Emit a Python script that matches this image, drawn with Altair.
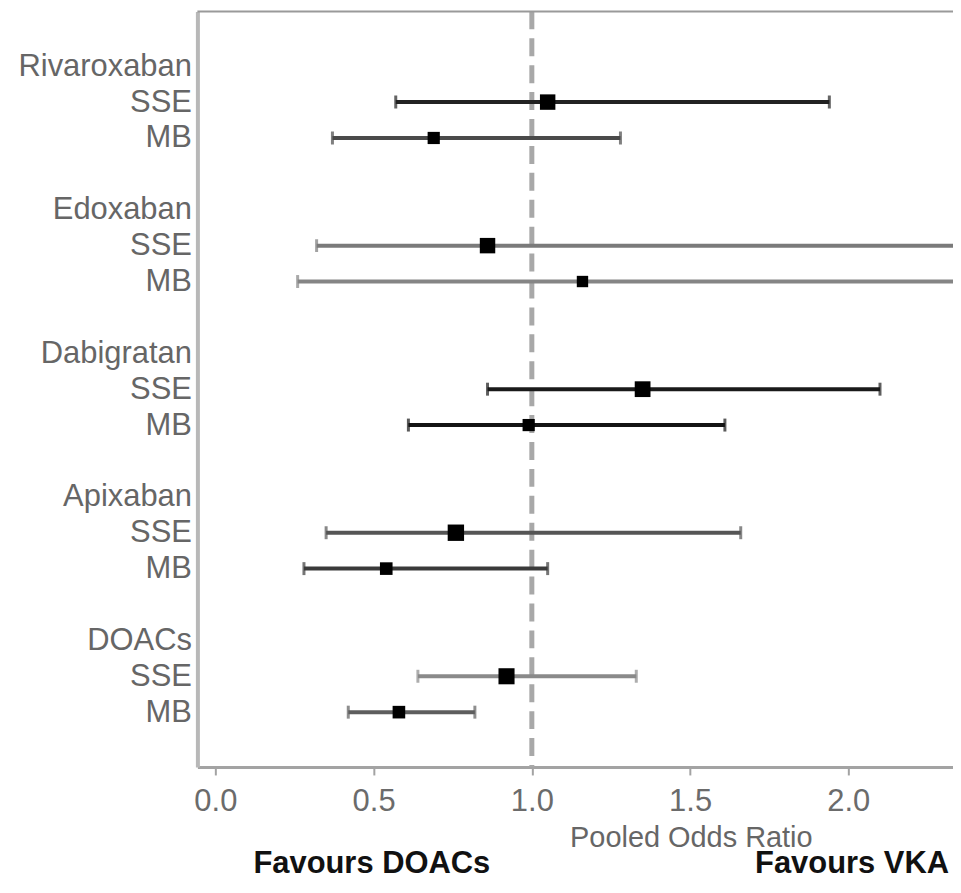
import altair as alt
import pandas as pd

# ---- data ----
drugs = ["Rivaroxaban", "Edoxaban", "Dabigratan", "Apixaban", "DOACs"]
outcomes = ["SSE", "MB"]
# order: Riv SSE, Riv MB, Edox SSE, Edox MB, Dab SSE, Dab MB, Apix SSE, Apix MB, DOAC SSE, DOAC MB
pooled_or = [1.05, 0.69, 0.86, 1.16, 1.35, 0.99, 0.76, 0.54, 0.92, 0.58]
ci_low = [0.57, 0.37, 0.32, 0.26, 0.86, 0.61, 0.35, 0.28, 0.64, 0.42]
ci_high = [1.94, 1.28, 3.20, 4.50, 2.10, 1.61, 1.66, 1.05, 1.33, 0.82]
line_colors = ["#222222", "#4a4a4a", "#7a7a7a", "#858585", "#1a1a1a",
               "#141414", "#555555", "#3a3a3a", "#8a8a8a", "#5e5e5e"]
point_sizes = [240, 150, 240, 130, 250, 150, 270, 160, 260, 160]
x_ticks = [0.0, 0.5, 1.0, 1.5, 2.0]
x_title = "Pooled Odds Ratio"
favours = ["Favours DOACs", "Favours VKA"]

# ---- build tables ----
row_labels = []
for d in drugs:
    row_labels += [d] + outcomes + [""]
row_labels = row_labels[:-1]

recs = []
k = 0
for i, d in enumerate(drugs):
    for j, o in enumerate(outcomes):
        recs.append(dict(drug=d, outcome=o, row=4 * i + j + 1,
                         est=pooled_or[k], lo=ci_low[k], hi=ci_high[k],
                         col=line_colors[k], size=point_sizes[k]))
        k += 1
df = pd.DataFrame(recs)

W, H = 758, 758
x_scale = alt.Scale(domain=[-18 / 317.5, (W - 18) / 317.5], zero=False, nice=False)
y_scale = alt.Scale(domain=[-55 / 36.0, (H - 55) / 36.0], zero=False, nice=False, reverse=True)

label_values = [i for i, l in enumerate(row_labels) if l != ""]
label_expr = "[" + ",".join("'" + l + "'" for l in row_labels) + "][datum.value]"

FONT = "Liberation Sans"

x_axis = alt.Axis(values=x_ticks, format=".1f", grid=False,
                  domainColor="#a3a3a3", domainWidth=3,
                  tickColor="#a3a3a3", tickWidth=2, tickSize=8,
                  labelFontSize=31, labelColor="#6b6b6b", labelFont=FONT,
                  labelPadding=12, labelFlush=False, labelOverlap=False,
                  title=x_title, titleFont=FONT, titleFontSize=29,
                  titleFontWeight="normal", titleColor="#666666",
                  titleX=495, titleY=71, titleBaseline="middle", titleAlign="center")
y_axis = alt.Axis(values=label_values, labelExpr=label_expr, grid=False,
                  domainColor="#b8b8b8", domainWidth=4, ticks=False,
                  labelFontSize=31, labelColor="#666666", labelFont=FONT,
                  labelPadding=6, labelBaseline="middle", labelOverlap=False,
                  labelFlush=False, title=None)

base = alt.Chart(df)

bars = base.mark_rule(strokeWidth=4, clip=True).encode(
    x=alt.X("lo:Q", scale=x_scale, axis=x_axis),
    x2="hi:Q",
    y=alt.Y("row:Q", scale=y_scale, axis=y_axis),
    color=alt.Color("col:N", scale=None),
)

caps_lo = base.mark_tick(orient="vertical", size=13, thickness=3, clip=True).encode(
    x=alt.X("lo:Q", scale=x_scale),
    y=alt.Y("row:Q", scale=y_scale),
    color=alt.Color("col:N", scale=None),
)
caps_hi = base.mark_tick(orient="vertical", size=13, thickness=3, clip=True).encode(
    x=alt.X("hi:Q", scale=x_scale),
    y=alt.Y("row:Q", scale=y_scale),
    color=alt.Color("col:N", scale=None),
)

points = base.mark_point(shape="square", filled=True, color="#000000", opacity=1).encode(
    x=alt.X("est:Q", scale=x_scale),
    y=alt.Y("row:Q", scale=y_scale),
    size=alt.Size("size:Q", scale=None),
)

ref_line = alt.Chart(pd.DataFrame({"v": [1.0]})).mark_rule(
    color="#a8a8a8", strokeWidth=5, strokeDash=[18, 9]
).encode(x=alt.X("v:Q", scale=x_scale))

top_border = alt.Chart(pd.DataFrame({"a": [0]})).mark_rule(
    color="#9a9a9a", strokeWidth=2
).encode(x=alt.value(0), x2=alt.value(W), y=alt.value(0))

fav_left = alt.Chart(pd.DataFrame({"t": [favours[0]]})).mark_text(
    align="center", baseline="alphabetic", font=FONT, fontSize=31,
    fontWeight="bold", color="#111111"
).encode(text="t:N", x=alt.value(175), y=alt.value(864))

fav_right = alt.Chart(pd.DataFrame({"t": [favours[1]]})).mark_text(
    align="right", baseline="alphabetic", font=FONT, fontSize=31,
    fontWeight="bold", color="#111111"
).encode(text="t:N", x=alt.value(W - 4), y=alt.value(864))

chart = alt.layer(
    ref_line, bars, caps_lo, caps_hi, points, top_border, fav_left, fav_right
).properties(
    width=W, height=H,
    autosize=alt.AutoSizeParams(type="none"),
    padding={"left": 190, "top": 2, "right": 0, "bottom": 115},
    background="white",
).configure_view(stroke=None)

chart.save("out.html", embed_options={"renderer": "svg", "actions": False})
